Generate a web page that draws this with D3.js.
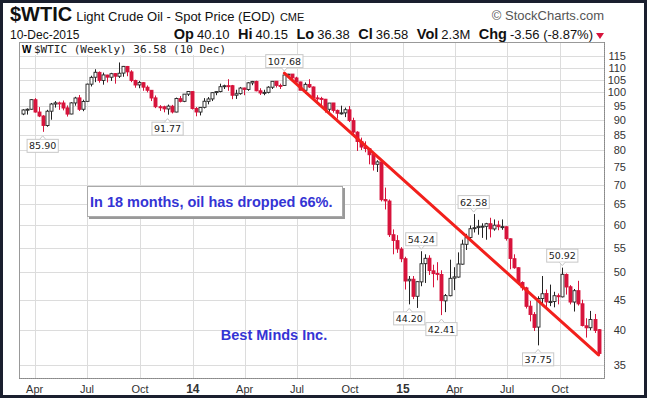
<!DOCTYPE html>
<html><head><meta charset="utf-8">
<script src="https://cdn.jsdelivr.net/npm/d3@7"></script>
<style>
body{margin:0;background:#fff;}
svg{display:block;font-family:Arial,"Liberation Sans",sans-serif;}
</style></head><body>
<svg id="chart" width="647" height="398"></svg>
<script>
// weekly candles, first bar is the week of 11 Mar 2013
var firstWeek = "2013-03-11";
var opens = [92.0,93.4,93.7,97.2,92.7,91.3,88.0,93.0,95.6,96.0,96.0,94.2,92.0,96.0,97.9,93.7,96.6,103.2,106.0,108.0,104.7,106.9,106.0,107.5,106.4,107.7,110.5,108.2,104.7,102.9,103.8,102.0,100.8,97.9,94.6,94.6,93.8,94.8,92.7,97.6,96.6,99.3,100.3,94.0,92.7,94.4,96.6,97.5,99.9,100.3,102.2,102.6,102.6,98.9,99.5,101.7,101.1,103.7,104.3,100.6,99.8,100.0,102.0,104.4,102.7,102.7,106.9,107.3,105.7,104.1,100.8,103.1,102.1,97.9,97.7,97.4,93.7,96.0,93.3,92.3,92.4,93.5,89.7,85.8,82.8,81.0,80.5,78.7,75.8,76.5,66.2,65.8,57.8,56.5,54.7,52.7,48.4,48.7,45.6,48.2,51.7,52.8,50.3,49.8,49.6,44.8,45.7,48.9,49.1,51.6,55.7,57.2,59.2,59.4,59.7,59.7,60.3,59.1,60.0,59.6,59.6,56.9,52.7,50.9,48.1,47.1,43.9,42.5,40.5,45.2,46.1,44.6,44.7,45.7,45.5,49.6,47.3,44.6,46.6,44.3,40.7,40.4,41.7,40.1];
var highs = [93.7,94.0,97.4,97.8,94.5,91.6,93.5,96.0,96.7,96.5,96.9,95.1,96.3,98.3,99.0,97.2,103.4,106.6,109.3,108.4,107.9,107.0,107.8,107.7,112.2,110.7,110.7,108.9,105.0,104.5,104.0,102.7,100.9,98.8,95.2,95.0,95.4,95.3,98.0,98.6,99.3,100.5,100.4,94.5,94.5,97.8,98.2,100.0,100.4,103.4,103.0,105.2,102.9,101.0,102.1,101.8,104.0,104.5,104.6,101.6,101.0,102.4,104.4,104.4,103.4,107.68,107.4,107.3,106.2,104.2,103.9,105.2,102.3,98.9,98.3,97.5,96.0,96.0,93.6,95.0,94.3,94.9,90.7,86.1,84.0,82.8,80.7,78.9,77.0,76.9,69.3,66.2,59.0,57.7,55.1,53.1,49.3,49.3,48.3,54.24,53.6,53.4,51.5,52.0,50.4,46.0,52.5,51.0,54.0,56.7,58.0,59.9,62.58,61.2,60.4,60.5,61.7,61.3,61.0,61.3,59.7,57.0,53.6,51.0,48.3,47.3,44.8,42.9,45.6,49.3,46.8,47.7,46.4,46.1,50.92,49.8,47.6,46.9,48.4,45.0,41.9,43.1,42.6,40.2];
var lows = [91.6,91.8,93.5,92.5,90.9,85.90,87.6,90.0,94.3,93.5,93.3,91.1,91.9,95.0,93.1,93.0,96.5,102.3,104.0,103.8,103.0,103.9,104.5,103.4,105.7,106.2,106.4,104.0,101.8,101.6,100.6,100.0,96.7,94.1,93.1,92.6,91.77,92.2,92.6,96.2,96.3,98.6,93.6,91.2,91.5,94.0,95.5,96.7,98.9,100.0,101.3,100.6,97.4,97.5,99.1,98.9,100.6,102.8,100.4,99.0,98.9,99.6,101.3,101.9,101.3,102.5,105.8,105.3,103.9,100.8,99.4,101.7,97.4,96.8,95.0,92.5,92.8,92.5,90.4,91.8,90.9,89.2,84.7,79.8,80.1,79.4,75.8,74.0,73.6,65.7,63.7,57.3,53.6,53.9,52.0,46.8,44.20,45.1,43.6,47.4,48.0,49.5,47.2,48.5,42.41,42.9,45.6,46.7,49.0,51.5,54.5,56.9,58.3,57.8,57.1,56.7,57.2,58.7,58.8,58.9,56.5,50.6,50.7,47.7,46.6,43.5,41.4,39.9,37.75,43.9,43.5,43.9,43.7,44.2,45.4,45.9,44.2,43.0,44.0,40.6,38.9,40.0,39.6,36.38];
var closes = [93.45,93.71,97.23,92.70,91.29,88.01,93.00,95.61,96.04,96.02,94.15,91.97,96.03,97.85,93.69,96.56,103.22,105.95,108.05,104.70,106.94,106.03,107.46,106.42,107.65,110.53,108.21,104.67,102.87,103.84,102.02,100.81,97.85,94.61,94.60,93.84,94.84,92.72,97.65,96.60,99.32,100.32,93.96,92.72,94.37,96.64,97.49,99.88,100.30,102.20,102.59,102.58,98.89,99.46,101.67,101.14,103.74,104.30,100.60,99.76,99.99,102.02,104.35,102.71,102.66,106.91,107.26,105.74,104.06,100.83,103.13,102.09,97.88,97.65,97.35,93.65,95.96,93.29,92.27,92.41,93.54,89.74,85.82,82.75,81.01,80.54,78.65,75.82,76.51,66.15,65.84,57.81,56.52,54.73,52.69,48.36,48.69,45.59,48.24,51.69,52.78,50.34,49.76,49.61,44.84,45.72,48.87,49.14,51.64,55.74,57.15,59.15,59.39,59.69,59.72,60.30,59.13,59.96,59.61,59.63,56.93,52.74,50.89,48.14,47.12,43.87,42.50,40.45,45.22,46.05,44.63,44.68,45.70,45.54,49.63,47.26,44.60,46.59,44.29,40.74,40.39,41.71,39.97,36.58];

var yTicks = [115,110,105,100,95,90,85,80,75,70,65,60,55,50,45,40,35];
var xTickDates = ["2013-04-01","2013-07-01","2013-10-01","2014-01-01","2014-04-01","2014-07-01","2014-10-01","2015-01-01","2015-04-01","2015-07-01","2015-10-01"];
var xTickLabels = ["Apr","Jul","Oct","14","Apr","Jul","Oct","15","Apr","Jul","Oct"];

// labelled highs / lows: bar index, value, side
var calloutBars = [5,36,65,96,99,104,112,128,134];
var calloutValues = [85.90,91.77,107.68,44.20,54.24,42.41,62.58,37.75,50.92];
var calloutSides = ["below","below","above","below","above","below","above","below","above"];

// trend line from the June 2014 high to the last low
var trendBars = [65,143];
var trendValues = [107.68,36.38];

var red = "#d7143c";
var svg = d3.select("#chart");
var L = 19, R = 604, T = 42, B = 378;

var parse = d3.utcParse("%Y-%m-%d");
var weeks = closes.map(function(c, i) { return d3.utcWeek.offset(parse(firstWeek), i); });
var bars = closes.map(function(c, i) {
  return {date: weeks[i], o: opens[i], h: highs[i], l: lows[i], c: c, prev: i ? closes[i - 1] : opens[i]};
});

var x = d3.scaleUtc().domain([parse("2013-03-01"), parse("2015-12-17")]).range([16.8, 604.3]);
var y = d3.scaleLog().domain([33.29, 121.4]).range([B, T]);

svg.append("rect").attr("width", 647).attr("height", 398).attr("fill", "#fff");

// grid
var grid = svg.append("g").attr("stroke", "#dcdcdc").attr("stroke-width", 1);
grid.selectAll(".h").data(yTicks).enter().append("line")
  .attr("x1", L).attr("x2", R)
  .attr("y1", function(d) { return Math.round(y(d)) + 0.5; })
  .attr("y2", function(d) { return Math.round(y(d)) + 0.5; });
grid.selectAll(".v").data(xTickDates).enter().append("line")
  .attr("y1", T).attr("y2", B)
  .attr("x1", function(d) { return Math.round(x(parse(d))) + 0.5; })
  .attr("x2", function(d) { return Math.round(x(parse(d))) + 0.5; });

// panel frame
svg.append("rect").attr("x", L + 0.5).attr("y", T + 0.5).attr("width", R - L).attr("height", B - T)
  .attr("fill", "none").attr("stroke", "#999");
svg.append("line").attr("x1", R + 0.5).attr("x2", R + 0.5).attr("y1", T).attr("y2", B)
  .attr("stroke", "#888").attr("stroke-dasharray", "1,1");
svg.append("line").attr("x1", L).attr("x2", R).attr("y1", B + 0.5).attr("y2", B + 0.5)
  .attr("stroke", "#888").attr("stroke-dasharray", "1,1");

// y axis labels
svg.append("g").selectAll("text").data(yTicks).enter().append("text")
  .attr("x", 626).attr("y", function(d) { return y(d) + 4; })
  .attr("text-anchor", "end").attr("font-size", 11).attr("fill", "#333")
  .text(function(d) { return d; });

// x axis labels
svg.append("g").selectAll("text").data(xTickDates).enter().append("text")
  .attr("x", function(d) { return x(parse(d)); }).attr("y", 393)
  .attr("text-anchor", "middle").attr("fill", "#333")
  .attr("font-size", function(d, i) { return /^\d/.test(xTickLabels[i]) ? 12 : 11; })
  .attr("font-weight", function(d, i) { return /^\d/.test(xTickLabels[i]) ? "bold" : "normal"; })
  .text(function(d, i) { return xTickLabels[i]; });

// candles
var cg = svg.append("g");
var candle = cg.selectAll("g").data(bars).enter().append("g");
function col(d) { return d.c >= d.prev ? "#222" : red; }
candle.append("line")
  .attr("x1", function(d) { return Math.round(x(d.date)) + 0.5; })
  .attr("x2", function(d) { return Math.round(x(d.date)) + 0.5; })
  .attr("y1", function(d) { return y(d.h); })
  .attr("y2", function(d) { return y(d.l); })
  .attr("stroke", col);
candle.append("rect")
  .attr("x", function(d) { return Math.round(x(d.date)) - 1; })
  .attr("width", 3)
  .attr("y", function(d) { return y(Math.max(d.o, d.c)); })
  .attr("height", function(d) { return Math.max(1, y(Math.min(d.o, d.c)) - y(Math.max(d.o, d.c))); })
  .attr("fill", function(d) { return d.c > d.o ? "#fff" : col(d); })
  .attr("stroke", col).attr("stroke-width", 0.9);

// trend line
svg.append("line")
  .attr("x1", x(weeks[trendBars[0]])).attr("y1", y(trendValues[0]))
  .attr("x2", x(weeks[trendBars[1]])).attr("y2", y(trendValues[1]))
  .attr("stroke", "#f2201c").attr("stroke-width", 3).attr("stroke-linecap", "round");

// callouts
calloutBars.forEach(function(b, i) {
  var cx = x(weeks[b]), v = calloutValues[i], up = calloutSides[i] == "above";
  var py = y(v), cy = up ? py - 12 : py + 14;
  var g = svg.append("g");
  var t = g.append("text").attr("x", cx).attr("y", cy + 3.5).attr("text-anchor", "middle")
    .attr("font-family", "DejaVu Sans").attr("font-size", 9.5).attr("fill", "#222").text(v.toFixed(2));
  var w = t.node().getComputedTextLength() + 4;
  g.insert("rect", "text").attr("x", cx - w / 2).attr("y", cy - 6.5).attr("width", w).attr("height", 13)
    .attr("fill", "#fff").attr("stroke", "#c8c8c8");
  var ty = up ? cy + 6.5 : cy - 6.5, tip = up ? cy + 10 : cy - 10;
  g.insert("path", "text").attr("d", "M" + (cx - 3) + "," + ty + "L" + cx + "," + tip + "L" + (cx + 3) + "," + ty)
    .attr("fill", "#fff").attr("stroke", "#c8c8c8");
});

// note box
svg.append("rect").attr("x", 89).attr("y", 188).attr("width", 256).attr("height", 31).attr("fill", "#999");
svg.append("rect").attr("x", 87.5).attr("y", 186.5).attr("width", 255).attr("height", 30)
  .attr("fill", "#fff").attr("stroke", "#aaa");
svg.append("text").attr("x", 90).attr("y", 207).attr("font-size", 14.5).attr("font-weight", "bold")
  .attr("fill", "#3434d4").text("In 18 months, oil has dropped 66%.");
svg.append("text").attr("x", 274).attr("y", 340).attr("text-anchor", "middle").attr("font-size", 14.5)
  .attr("font-weight", "bold").attr("fill", "#3434d4").text("Best Minds Inc.");

// panel caption
var cap = svg.append("g");
cap.append("rect").attr("x", 20).attr("y", 43).attr("width", 228).attr("height", 12).attr("fill", "#fff");
cap.append("text").attr("x", 22).attr("y", 53).attr("font-size", 10).attr("font-weight", "bold").text("W");
cap.append("text").attr("x", 34).attr("y", 53).attr("font-family", "DejaVu Sans Mono").attr("font-size", 11)
  .attr("fill", "#222").text("$WTIC (Weekly) 36.58 (10 Dec)");

// header
var h1 = svg.append("text").attr("x", 10).attr("y", 21).attr("fill", "#111");
h1.append("tspan").attr("font-size", 20).attr("font-weight", "bold").text("$WTIC");
h1.append("tspan").attr("font-size", 13).attr("dx", 4).text("Light Crude Oil - Spot Price (EOD)");
h1.append("tspan").attr("font-size", 11).attr("dx", 5).text("CME");
svg.append("text").attr("x", 604).attr("y", 20).attr("text-anchor", "end").attr("font-size", 13)
  .attr("fill", "#555").text("\u00a9 StockCharts.com");
svg.append("text").attr("x", 10).attr("y", 39).attr("font-size", 12).attr("fill", "#111").text("10-Dec-2015");
var h2 = svg.append("text").attr("x", 593).attr("y", 39).attr("text-anchor", "end").attr("fill", "#111");
[["Op", "40.10"], ["Hi", "40.15"], ["Lo", "36.38"], ["Cl", "36.58"], ["Vol", "2.3M"], ["Chg", "-3.56 (-8.87%)"]].forEach(function(p, i) {
  h2.append("tspan").attr("font-size", 14.5).attr("font-weight", "bold").attr("dx", i ? 8.5 : 0).text(p[0]);
  h2.append("tspan").attr("font-size", 13).attr("dx", 3).text(p[1]);
});
svg.append("path").attr("d", "M596,33L604,33L600,39Z").attr("fill", red);

// outer frame
svg.append("rect").attr("x", 1.5).attr("y", 1.5).attr("width", 644).attr("height", 395)
  .attr("fill", "none").attr("stroke", "#1a1f2e").attr("stroke-width", 3);
</script>
</body></html>
